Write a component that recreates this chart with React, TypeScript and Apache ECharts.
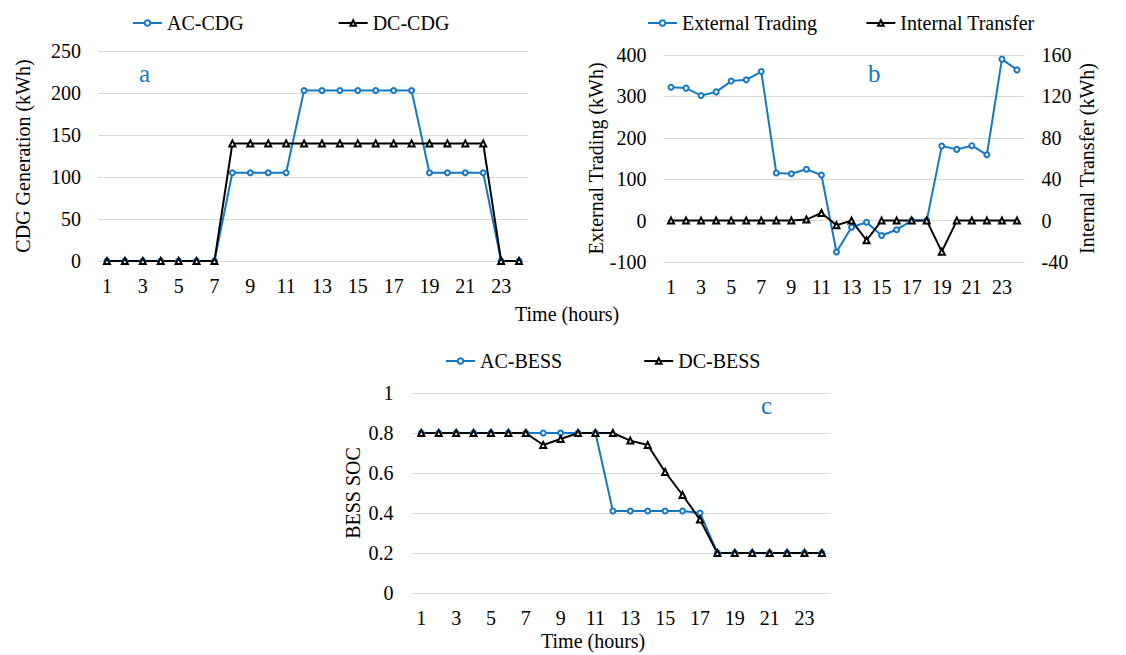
import React, { useEffect, useRef } from "react";
import * as echarts from "echarts";

const hours = Array.from({ length: 24 }, (_, i) => String(i + 1));

const acCdg = [0, 0, 0, 0, 0, 0, 0, 105, 105, 105, 105, 203, 203, 203, 203, 203, 203, 203, 105, 105, 105, 105, 0, 0];
const dcCdg = [0, 0, 0, 0, 0, 0, 0, 140, 140, 140, 140, 140, 140, 140, 140, 140, 140, 140, 140, 140, 140, 140, 0, 0];

const externalTrading = [322, 320, 302, 311, 337, 340, 360, 115, 113, 124, 110, -76, -16, -4, -36, -22, 0, 0, 180, 172, 181, 159, 390, 364];
const internalTransfer = [0, 0, 0, 0, 0, 0, 0, 0, 0, 1, 7.4, -4.5, 0, -19, 0, 0, 0, 0, -30, 0, 0, 0, 0, 0];

const acBess = [0.8, 0.8, 0.8, 0.8, 0.8, 0.8, 0.8, 0.8, 0.8, 0.8, 0.8, 0.41, 0.41, 0.41, 0.41, 0.41, 0.4, 0.2, 0.2, 0.2, 0.2, 0.2, 0.2, 0.2];
const dcBess = [0.8, 0.8, 0.8, 0.8, 0.8, 0.8, 0.8, 0.74, 0.77, 0.8, 0.8, 0.8, 0.762, 0.74, 0.605, 0.49, 0.367, 0.2, 0.2, 0.2, 0.2, 0.2, 0.2, 0.2];

const BLUE = "#1578c6";
const BLACK = "#000000";
const FONT = "Liberation Serif";
const GRID = "#d9d9d9";

export default function App() {
  const ref = useRef<HTMLDivElement>(null);
  useEffect(() => {
    if (!ref.current) return;
    const chart = echarts.init(ref.current, undefined, { renderer: "svg" });
    const xAxisBase = (gridIndex: number) => ({
      type: "category",
      gridIndex,
      data: hours,
      boundaryGap: true,
      axisLine: { show: false },
      axisTick: { show: false },
      axisLabel: { interval: 1, color: "#000", fontFamily: FONT, fontSize: 20, margin: 15 },
      splitLine: { show: false },
    });
    const yBase = (gridIndex: number, min: number, max: number, interval: number, name: string, nameGap: number) => ({
      type: "value",
      gridIndex,
      min,
      max,
      interval,
      name,
      nameLocation: "middle",
      nameGap,
      nameTextStyle: { color: "#000", fontFamily: FONT, fontSize: 20 },
      axisLine: { show: false },
      axisTick: { show: false },
      axisLabel: { color: "#000", fontFamily: FONT, fontSize: 20, margin: 17 },
      splitLine: { show: true, lineStyle: { color: GRID, width: 1 } },
    });
    const blueStyle = {
      type: "line",
      symbol: "emptyCircle",
      symbolSize: 5,
      color: BLUE,
      lineStyle: { color: BLUE, width: 2 },
      itemStyle: { color: BLUE, borderColor: BLUE, borderWidth: 1.5 },
    };
    const blackStyle = {
      type: "line",
      symbol: "emptyTriangle",
      symbolSize: 6,
      color: BLACK,
      lineStyle: { color: BLACK, width: 2 },
      itemStyle: { color: BLACK, borderColor: BLACK, borderWidth: 1.5 },
    };
    const legendBase = {
      itemWidth: 29,
      itemHeight: 7,
      padding: 0,
      textStyle: { color: "#000", fontFamily: FONT, fontSize: 20 },
    };
    const option: any = {
      animation: false,
      backgroundColor: "#ffffff",
      grid: [
        { left: 98, right: 1126 - 528, top: 51, bottom: 655 - 261 },
        { left: 663.5, right: 1126 - 1024.5, top: 55, bottom: 655 - 262 },
        { left: 412.6, right: 1126 - 830.6, top: 393, bottom: 655 - 593 },
      ],
      legend: [
        { ...legendBase, left: 132, top: 13, itemGap: 94, data: ["AC-CDG", "DC-CDG"] },
        { ...legendBase, left: 647, top: 13, itemGap: 48, data: ["External Trading", "Internal Transfer"] },
        { ...legendBase, left: 445, top: 351, itemGap: 81, data: ["AC-BESS", "DC-BESS"] },
      ],
      xAxis: [xAxisBase(0), xAxisBase(1), xAxisBase(2)],
      yAxis: [
        yBase(0, 0, 250, 50, "CDG Generation (kWh)", 65),
        yBase(1, -100, 400, 100, "External Trading (kWh)", 57),
        {
          ...yBase(1, -40, 160, 40, "Internal Transfer (kWh)", 52),
          position: "right",
          splitLine: { show: false },
        },
        {
          ...yBase(2, 0, 1, 0.2, "BESS SOC", 50),
          axisLabel: {
            color: "#000",
            fontFamily: FONT,
            fontSize: 20,
            margin: 19,
            formatter: (v: number) => String(Number(v.toFixed(1))),
          },
        },
      ],
      series: [
        { ...blueStyle, name: "AC-CDG", xAxisIndex: 0, yAxisIndex: 0, data: acCdg },
        { ...blackStyle, name: "DC-CDG", xAxisIndex: 0, yAxisIndex: 0, data: dcCdg },
        { ...blueStyle, name: "External Trading", xAxisIndex: 1, yAxisIndex: 1, data: externalTrading },
        { ...blackStyle, name: "Internal Transfer", xAxisIndex: 1, yAxisIndex: 2, data: internalTransfer },
        { ...blueStyle, name: "AC-BESS", xAxisIndex: 2, yAxisIndex: 3, data: acBess },
        { ...blackStyle, name: "DC-BESS", xAxisIndex: 2, yAxisIndex: 3, data: dcBess },
      ],
      graphic: [
        { type: "text", left: 139, top: 61, style: { text: "a", fill: BLUE, font: `25px '${FONT}'` } },
        { type: "text", left: 868, top: 61, style: { text: "b", fill: BLUE, font: `25px '${FONT}'` } },
        { type: "text", left: 761, top: 393, style: { text: "c", fill: BLUE, font: `25px '${FONT}'` } },
        { type: "text", left: 515, top: 304, style: { text: "Time (hours)", fill: "#000", font: `20px '${FONT}'` } },
        { type: "text", left: 541, top: 631, style: { text: "Time (hours)", fill: "#000", font: `20px '${FONT}'` } },
      ],
    };
    chart.setOption(option);
    return () => chart.dispose();
  }, []);
  return (
    <div
      ref={ref}
      style={{ position: "absolute", left: 0, top: 0, width: 1126, height: 655, background: "#fff" }}
    />
  );
}
